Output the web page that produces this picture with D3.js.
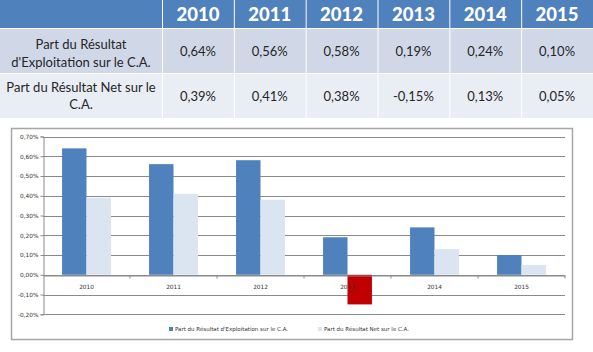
<!DOCTYPE html>
<html>
<head>
<meta charset="utf-8">
<script src="https://cdn.jsdelivr.net/npm/d3@7"></script>
<style>
  body { margin: 0; background: #fff; }
  svg { display: block; }
</style>
</head>
<body>
<div id="d3-container"></div>
<script>
/**
 * DATA
 * */
const years = ["2010", "2011", "2012", "2013", "2014", "2015"];
const rowLabels = [
  ["Part du Résultat", "d'Exploitation sur le C.A."],
  ["Part du Résultat Net sur le", "C.A."]
];
const exploitation = [0.64, 0.56, 0.58, 0.19, 0.24, 0.10];
const net = [0.39, 0.41, 0.38, -0.15, 0.13, 0.05];
const seriesNames = [
  "Part du Résultat d'Exploitation sur le C.A.",
  "Part du Résultat Net sur le C.A."
];
const yTicks = [-0.2, -0.1, 0, 0.1, 0.2, 0.3, 0.4, 0.5, 0.6, 0.7];

/**
 * CONSTANTS
 * */
const width = 593, height = 352;
const colors = ["#4f81bd", "#dbe5f1"];
const negColor = "#c00000";
// french style: comma decimal, plain hyphen for negatives
const fmt = v => d3.format(".2f")(v).replace(".", ",").replace("\u2212", "-") + "%";

const svg = d3.select("#d3-container")
  .append("svg")
  .attr("width", width)
  .attr("height", height);

// ---------- table ----------
const labelW = 162;
const col = d3.scaleBand().domain(years).range([labelW, width]);
const rows = [
  { y: 0, h: 28 },
  { y: 29, h: 44 },
  { y: 74, h: 44 }
];
const rowFill = ["#4f81bd", "#d0d8e8", "#e9edf4"];
const cells = ["", ...years];

rows.forEach((r, i) => {
  const g = svg.append("g");
  g.selectAll("rect")
    .data(cells)
    .join("rect")
    .attr("x", (d, j) => j === 0 ? 0 : col(d) + 1)
    .attr("width", (d, j) => j === 0 ? labelW : col.bandwidth() - 1)
    .attr("y", r.y)
    .attr("height", r.h)
    .attr("fill", rowFill[i]);
});

// header years
svg.append("g").selectAll("text")
  .data(years)
  .join("text")
  .attr("x", d => col(d) + col.bandwidth() / 2)
  .attr("y", 21)
  .attr("text-anchor", "middle")
  .attr("fill", "#fff")
  .attr("font-family", "Lato, sans-serif")
  .attr("font-weight", 900)
  .attr("font-size", 18.5)
  .text(d => d);

// row labels
const labelBase = [[48.5, 66.5], [91.5, 109]];
rowLabels.forEach((lines, i) => {
  svg.append("g").selectAll("text")
    .data(lines)
    .join("text")
    .attr("x", labelW / 2)
    .attr("y", (d, k) => labelBase[i][k])
    .attr("text-anchor", "middle")
    .attr("fill", "#262626")
    .attr("font-family", "Lato, sans-serif")
    .attr("font-size", 13)
    .text(d => d);
});

// values
[exploitation, net].forEach((vals, i) => {
  svg.append("g").selectAll("text")
    .data(vals)
    .join("text")
    .attr("x", (d, j) => col(years[j]) + col.bandwidth() / 2)
    .attr("y", i === 0 ? 55.5 : 100.5)
    .attr("text-anchor", "middle")
    .attr("fill", "#262626")
    .attr("font-family", "Lato, sans-serif")
    .attr("font-size", 13)
    .text(d => fmt(d));
});

// ---------- chart ----------
svg.append("rect")
  .attr("x", 11.5).attr("y", 128.5)
  .attr("width", 561).attr("height", 211)
  .attr("fill", "#fff")
  .attr("stroke", "#a6a6a6")
  .attr("stroke-width", 1.5);

const plot = { left: 43, right: 565, top: 136.5, bottom: 314.3 };

const y = d3.scaleLinear()
  .domain([-0.2, 0.7])
  .range([plot.bottom, plot.top]);

const x0 = d3.scaleBand()
  .domain(years)
  .range([plot.left, plot.right]);

const x1 = d3.scaleBand()
  .domain([0, 1])
  .range([0, x0.bandwidth()])
  .paddingInner(0)
  .paddingOuter(0.78);

// gridlines
svg.append("g")
  .selectAll("line")
  .data(yTicks)
  .join("line")
  .attr("x1", plot.left)
  .attr("x2", plot.right)
  .attr("y1", d => Math.round(y(d)) + 0.5)
  .attr("y2", d => Math.round(y(d)) + 0.5)
  .attr("stroke", "#8a8a8a")
  .attr("stroke-width", 1);

// y axis
const yAxis = svg.append("g")
  .attr("transform", `translate(${plot.left + 0.5},0)`)
  .call(d3.axisLeft(y).tickValues(yTicks).tickSize(3).tickFormat(fmt));
yAxis.select(".domain").attr("stroke", "#8a8a8a");
yAxis.selectAll(".tick line").attr("stroke", "#8a8a8a");
yAxis.selectAll(".tick text")
  .attr("fill", "#333")
  .attr("font-family", "DejaVu Sans, sans-serif")
  .attr("font-size", 5.8)
  .attr("x", -5);

// bars
const data = years.map((yr, i) => ({ year: yr, values: [exploitation[i], net[i]] }));
svg.append("g")
  .selectAll("g")
  .data(data)
  .join("g")
  .attr("transform", d => `translate(${x0(d.year)},0)`)
  .selectAll("rect")
  .data(d => d.values.map((v, k) => ({ k, v })))
  .join("rect")
  .attr("x", d => x1(d.k))
  .attr("width", x1.bandwidth())
  .attr("y", d => y(Math.max(0, d.v)))
  .attr("height", d => Math.abs(y(d.v) - y(0)))
  .attr("fill", d => d.v < 0 ? negColor : colors[d.k]);

// x axis on zero line
const xAxis = svg.append("g")
  .attr("transform", `translate(0,${Math.round(y(0)) + 0.5})`)
  .call(d3.axisBottom(x0).tickSize(0).tickPadding(9));
xAxis.select(".domain").attr("stroke", "#8a8a8a");
xAxis.selectAll(".tick text")
  .attr("fill", "#333")
  .attr("font-family", "DejaVu Sans, sans-serif")
  .attr("font-size", 5.8);
// category separator ticks
xAxis.append("g")
  .selectAll("line")
  .data(years.slice(1).concat(["end"]))
  .join("line")
  .attr("x1", d => d === "end" ? plot.right : x0(d))
  .attr("x2", d => d === "end" ? plot.right : x0(d))
  .attr("y1", 0).attr("y2", 3)
  .attr("stroke", "#8a8a8a");

// legend
const legendX = [169, 318];
const legend = svg.append("g")
  .selectAll("g")
  .data(seriesNames)
  .join("g")
  .attr("transform", (d, i) => `translate(${legendX[i]},327)`);
legend.append("rect")
  .attr("width", 4).attr("height", 4)
  .attr("fill", (d, i) => colors[i]);
legend.append("text")
  .attr("x", 6).attr("y", 4)
  .attr("fill", "#333")
  .attr("font-family", "DejaVu Sans, sans-serif")
  .attr("font-size", 5.5)
  .text(d => d);
</script>
</body>
</html>
